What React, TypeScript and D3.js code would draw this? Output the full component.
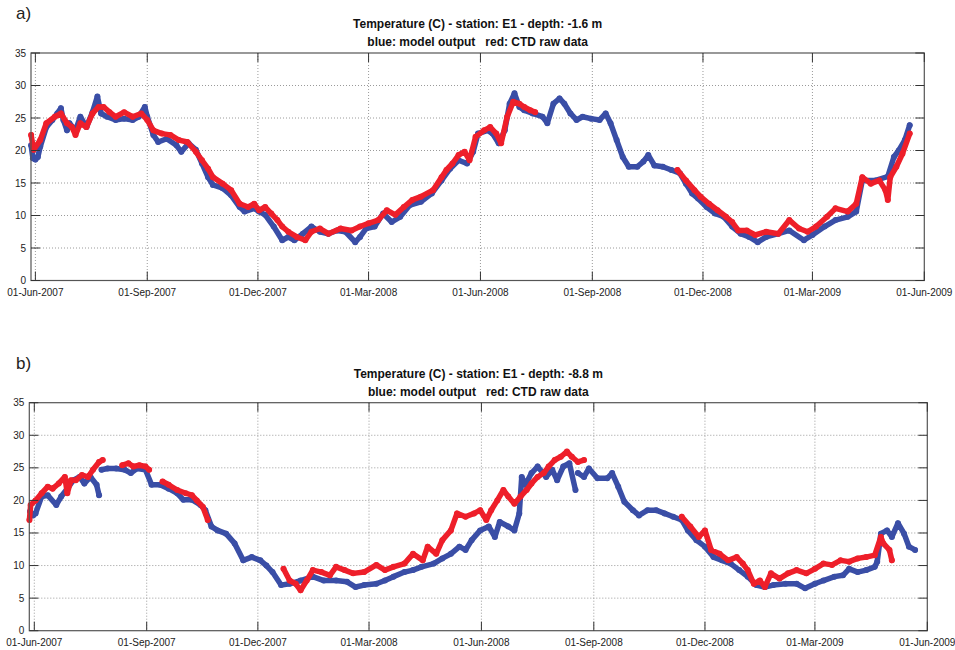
import React from "react";
import * as d3 from "d3";

// Time axis: days counted from 01-Jun-2007 (UTC).
const ORIGIN = Date.UTC(2007, 5, 1);
const DAY_MS = 86400000;
const dayToDate = (d: number) => new Date(ORIGIN + d * DAY_MS);

type Pt = [number, number | null];

const xTickDates = [
  "2007-06-01", "2007-09-01", "2007-12-01", "2008-03-01", "2008-06-01",
  "2008-09-01", "2008-12-01", "2009-03-01", "2009-06-01",
];
const yTicks = [0, 5, 10, 15, 20, 25, 30, 35];

// Station E1, depth -1.6 m: model output
const surfaceModel: Pt[] = [
  [-3.5, 20.8], [-2, 18.8], [0, 18.6], [2, 19.0], [4, 20.6], [9, 23.6], [14, 24.7], [18, 25.7],
  [21, 26.5], [23, 24.7], [26, 23.1], [28, 24.2], [33, 23.1], [37, 25.2], [42, 23.6], [47, 25.9],
  [51, 28.3], [54, 25.7], [59, 25.2], [66, 24.7], [73, 24.9], [80, 24.7], [85, 25.2], [90, 26.7],
  [92, 25.2], [97, 22.4], [101, 21.3], [108, 21.8], [116, 20.8], [120, 19.8], [126, 21.1], [132, 20.1],
  [137, 18.0], [142, 15.9], [146, 14.7], [154, 14.2], [161, 13.1], [168, 11.3], [172, 10.6], [180, 11.1],
  [184, 10.6], [189, 10.1], [196, 8.3], [203, 6.2], [208, 6.7], [213, 6.2], [220, 7.2], [227, 8.3],
  [234, 7.5], [241, 7.2], [248, 7.7], [255, 7.5], [263, 5.9], [267, 6.7], [272, 8.0], [279, 8.3],
  [286, 10.3], [293, 9.0], [300, 9.8], [308, 11.6], [317, 12.1], [326, 13.4], [334, 15.4], [341, 17.2],
  [348, 18.5], [355, 18.0], [360, 19.8], [364, 22.6], [372, 23.1], [376, 22.6], [381, 21.1], [386, 23.1],
  [390, 27.2], [394, 28.8], [398, 26.7], [402, 26.2], [409, 25.7], [417, 25.2], [421, 24.2], [426, 27.2],
  [431, 28.0], [435, 27.2], [440, 25.7], [445, 24.7], [450, 25.2], [457, 24.9], [464, 24.7], [469, 25.7],
  [473, 24.2], [478, 21.6], [483, 19.0], [488, 17.5], [495, 17.5], [500, 18.3], [504, 19.3], [509, 17.7],
  [516, 17.5], [523, 17.0], [530, 16.5], [535, 14.9], [540, 13.4], [545, 12.6], [552, 11.3], [559, 10.3],
  [566, 9.8], [573, 8.3], [580, 7.2], [587, 6.7], [594, 5.9], [601, 6.7], [611, 7.2], [620, 7.7],
  [632, 6.2], [639, 7.0], [649, 8.3], [658, 9.3], [668, 9.8], [675, 10.6], [680, 15.4], [691, 15.4],
  [701, 16.0], [706, 19.0], [710, 20.0], [715, 21.6], [719, 23.9],
];

// Station E1, depth -1.6 m: CTD raw data (null = no record)
const surfaceCtd: Pt[] = [
  [-3.5, 22.4], [-1.5, 20.1], [4, 21.6], [9, 24.2], [16, 25.2], [21, 25.7], [26, 24.2], [30, 23.6],
  [33, 22.4], [37, 24.2], [42, 23.6], [47, 25.7], [52, 26.7], [56, 26.7], [61, 25.9], [66, 25.2],
  [73, 25.9], [80, 25.2], [87, 25.7], [92, 24.7], [97, 23.1], [104, 22.6], [111, 22.4], [118, 21.6],
  [125, 21.3], [132, 19.8], [137, 18.5], [142, 17.2], [146, 15.9], [154, 14.9], [161, 13.9], [168, 11.8],
  [175, 11.3], [180, 11.8], [184, 10.8], [189, 11.3], [194, 10.3], [199, 9.3], [203, 8.3], [208, 7.5],
  [215, 6.7], [222, 6.2], [227, 7.5], [234, 8.0], [241, 7.2], [251, 8.0], [260, 7.7], [267, 8.3],
  [274, 8.8], [282, 9.3], [289, 10.8], [296, 10.1], [303, 11.3], [310, 12.4], [317, 12.9], [327, 13.9],
  [334, 15.9], [338, 17.0], [343, 18.0], [348, 19.3], [353, 19.8], [357, 18.5], [362, 22.1], [369, 23.1],
  [374, 23.6], [379, 22.6], [383, 21.1], [388, 25.2], [393, 27.5], [398, 27.2], [402, 26.7], [407, 26.2],
  [411, 25.9], [412, null],
  [528, 17.0], [535, 15.4], [542, 13.9], [547, 12.9], [554, 11.8], [561, 10.8], [568, 9.8], [573, 9.0],
  [578, 7.7], [585, 7.7], [592, 7.0], [601, 7.5], [611, 7.2], [620, 9.3], [628, 8.0], [635, 7.5],
  [642, 8.3], [651, 9.8], [658, 11.1], [668, 10.6], [675, 11.8], [680, 15.9], [687, 14.9], [694, 15.4],
  [699, 13.9], [701, 12.4], [703, 15.9], [708, 17.5], [713, 19.5], [719, 22.6],
];

// Station E1, depth -8.8 m: model output
const deepModel: Pt[] = [
  [-3.5, 18.3], [-1, 17.7], [1, 18.0], [6, 20.6], [11, 20.8], [18, 19.3], [22, 20.6], [27, 21.8],
  [32, 23.1], [37, 23.6], [41, 22.6], [46, 23.6], [51, 22.4], [53, 20.8], [54, null],
  [55, 24.7], [60, 24.9], [67, 24.9], [74, 24.7], [79, 24.2], [84, 24.9], [91, 24.7], [96, 22.4],
  [103, 22.4], [110, 21.8], [117, 21.1], [122, 20.1], [129, 20.1], [136, 19.3], [140, 18.5], [145, 16.0],
  [150, 15.4], [157, 14.9], [164, 13.4], [171, 10.8], [178, 11.3], [185, 10.8], [190, 10.0], [195, 9.0],
  [202, 7.0], [209, 7.2], [218, 7.7], [228, 8.3], [237, 7.7], [247, 7.7], [256, 7.5], [263, 6.7],
  [270, 7.0], [280, 7.2], [287, 7.7], [294, 8.3], [303, 9.0], [310, 9.3], [317, 9.8], [327, 10.3],
  [334, 11.1], [341, 11.8], [348, 12.9], [353, 12.4], [358, 13.9], [365, 15.4], [372, 16.0], [377, 14.4],
  [381, 16.7], [388, 16.0], [393, 15.4], [397, 18.0], [399, 23.6], [402, 22.4], [407, 24.2], [412, 25.2],
  [419, 23.6], [424, 24.7], [428, 23.1], [433, 25.2], [438, 25.7], [443, 21.6], [444, null],
  [445, 24.2], [450, 23.6], [454, 24.9], [461, 23.4], [469, 23.4], [473, 24.2], [478, 22.1], [483, 19.8],
  [490, 18.5], [495, 17.7], [502, 18.5], [509, 18.5], [516, 18.0], [523, 17.5], [530, 17.0], [535, 15.4],
  [542, 13.9], [549, 12.9], [556, 11.3], [563, 10.8], [570, 10.3], [577, 9.3], [584, 8.3], [591, 7.0],
  [598, 6.7], [605, 7.0], [615, 7.2], [624, 7.2], [631, 6.5], [639, 7.2], [646, 7.7], [655, 8.3],
  [662, 8.5], [667, 9.5], [674, 9.0], [681, 9.3], [688, 9.8], [690, 10.6], [693, 14.9], [698, 15.4],
  [702, 14.4], [707, 16.5], [712, 14.9], [716, 12.9], [721, 12.4],
];

// Station E1, depth -8.8 m: CTD raw data (null = no record)
const deepCtd: Pt[] = [
  [-4, 17.0], [-3, 19.3], [1, 20.0], [6, 21.1], [11, 22.1], [15, 21.8], [20, 22.6], [25, 23.6],
  [27, 21.1], [30, 23.1], [34, 23.1], [39, 23.9], [44, 23.6], [48, 24.7], [53, 25.9], [56, 26.2],
  [57, null],
  [72, 25.4], [77, 25.7], [81, 25.2], [86, 25.4], [91, 25.2], [94, 24.7], [95, null],
  [105, 22.9], [110, 22.4], [117, 21.6], [124, 21.1], [129, 20.8], [133, 20.0], [138, 19.0], [142, 17.0],
  [143, null],
  [204, 9.5], [209, 7.7], [214, 7.2], [218, 6.2], [223, 7.7], [228, 9.3], [235, 9.0], [242, 8.5],
  [247, 9.8], [254, 9.3], [261, 8.8], [270, 9.0], [280, 10.1], [287, 9.3], [294, 9.8], [303, 10.3],
  [310, 11.8], [318, 10.8], [322, 12.9], [329, 11.8], [334, 13.9], [341, 15.4], [346, 18.0], [353, 17.5],
  [360, 18.0], [365, 18.5], [370, 17.0], [374, 18.5], [379, 20.0], [384, 21.6], [388, 20.6], [393, 19.5],
  [398, 20.6], [403, 21.6], [407, 22.6], [412, 23.6], [417, 24.2], [421, 25.2], [426, 26.2], [431, 26.7],
  [436, 27.5], [440, 26.7], [445, 25.9], [450, 26.2], [451, null],
  [530, 17.5], [537, 16.0], [544, 14.4], [549, 15.4], [554, 12.4], [561, 11.8], [568, 10.8], [575, 11.3],
  [580, 10.3], [584, 9.3], [589, 7.2], [594, 7.7], [598, 6.7], [603, 8.8], [610, 8.0], [617, 8.8],
  [624, 9.3], [632, 8.8], [639, 9.5], [646, 10.3], [653, 10.1], [660, 10.8], [667, 10.6], [674, 11.1],
  [681, 11.3], [688, 11.6], [693, 14.4], [695, 13.4], [700, 12.4], [702, 10.8],
];

const MODEL_COLOR = "#3a4ea6";
const CTD_COLOR = "#ee1f2a";
const FONT = "'Liberation Sans', Arial, Helvetica, sans-serif";
const parseDay = d3.utcParse("%Y-%m-%d");
const fmtTick = d3.utcFormat("%d-%b-%Y");

interface Frame {
  left: number;
  right: number;
  top: number;
  bottom: number;
  startDay: number;
}

interface PanelProps {
  tag: string;
  title: string;
  model: Pt[];
  ctd: Pt[];
  frame: Frame;
}

// Dense sample trace: a thick stroke through the samples plus a dot at each sample.
function Series({ data, color, x, y }: { data: Pt[]; color: string; x: (d: number) => number; y: d3.ScaleLinear<number, number> }) {
  const line = d3
    .line<Pt>()
    .defined((p) => p[1] != null)
    .x((p) => x(p[0]))
    .y((p) => y(p[1] as number))
    .curve(d3.curveLinear);
  return (
    <g>
      <path d={line(data) || ""} fill="none" stroke={color} strokeWidth={5.5} strokeLinejoin="round" strokeLinecap="round" />
      {data
        .filter((p) => p[1] != null)
        .map((p, i) => (
          <circle key={i} cx={x(p[0])} cy={y(p[1] as number)} r={3} fill={color} />
        ))}
    </g>
  );
}

function Panel({ tag, title, model, ctd, frame }: PanelProps) {
  const { left, right, top, bottom, startDay } = frame;
  const xTime = d3.scaleUtc().domain([dayToDate(startDay), dayToDate(731)]).range([left, right]);
  const x = (d: number) => xTime(dayToDate(d));
  const y = d3.scaleLinear().domain([0, 35]).range([bottom, top]);
  const ticks = xTickDates.map((s) => parseDay(s) as Date);
  const tickLen = 9;
  const cx = (left + right) / 2;

  return (
    <g>
      <text x={16} y={top - 34} fontFamily={FONT} fontSize={17} fill="#222">{tag}</text>
      <text x={cx} y={top - 25} textAnchor="middle" fontFamily={FONT} fontSize={12} fontWeight="bold" fill="#111">
        {title}
      </text>
      <text x={cx} y={top - 7} textAnchor="middle" fontFamily={FONT} fontSize={12} fontWeight="bold" fill="#111" style={{ whiteSpace: "pre" }}>
        {"blue: model output   red: CTD raw data"}
      </text>

      <rect x={left} y={top} width={right - left} height={bottom - top} fill="#fff" />

      {/* grid */}
      {yTicks.filter((v) => v > 0 && v < 35).map((v) => (
        <line key={"gy" + v} x1={left} x2={right} y1={y(v)} y2={y(v)} stroke="#9a9a9a" strokeWidth={1} strokeDasharray="1 2" />
      ))}
      {ticks.filter((t) => xTime(t) < right - 1).map((t, i) => (
        <line key={"gx" + i} x1={xTime(t)} x2={xTime(t)} y1={top} y2={bottom} stroke="#9a9a9a" strokeWidth={1} strokeDasharray="1 2" />
      ))}

      <Series data={model} color={MODEL_COLOR} x={x} y={y} />
      <Series data={ctd} color={CTD_COLOR} x={x} y={y} />

      {/* box and ticks */}
      <rect x={left} y={top} width={right - left} height={bottom - top} fill="none" stroke="#555" strokeWidth={1.2} />
      {yTicks.map((v) => (
        <g key={"ty" + v}>
          <line x1={left} x2={left + tickLen} y1={y(v)} y2={y(v)} stroke="#333" />
          <line x1={right} x2={right - tickLen} y1={y(v)} y2={y(v)} stroke="#333" />
          <text x={left - 5} y={y(v)} dy="0.35em" textAnchor="end" fontFamily={FONT} fontSize={10} fill="#222">
            {v}
          </text>
        </g>
      ))}
      {ticks.map((t, i) => (
        <g key={"tx" + i}>
          <line x1={xTime(t)} x2={xTime(t)} y1={bottom} y2={bottom - tickLen} stroke="#333" />
          <line x1={xTime(t)} x2={xTime(t)} y1={top} y2={top + tickLen} stroke="#333" />
          <text x={xTime(t)} y={bottom + 15} textAnchor="middle" fontFamily={FONT} fontSize={10} fill="#222">
            {fmtTick(t)}
          </text>
        </g>
      ))}
    </g>
  );
}

export default function App() {
  return (
    <svg width={955} height={650} style={{ position: "absolute", left: 0, top: 0, background: "#fff" }}>
      <rect width={955} height={650} fill="#fff" />
      <Panel
        tag="a)"
        title="Temperature (C) - station: E1 - depth: -1.6 m"
        model={surfaceModel}
        ctd={surfaceCtd}
        frame={{ left: 31, right: 924.3, top: 53, bottom: 280.5, startDay: -3.6 }}
      />
      <Panel
        tag="b)"
        title="Temperature (C) - station: E1 - depth: -8.8 m"
        model={deepModel}
        ctd={deepCtd}
        frame={{ left: 29.3, right: 927.3, top: 402.7, bottom: 630.7, startDay: -4.1 }}
      />
    </svg>
  );
}
